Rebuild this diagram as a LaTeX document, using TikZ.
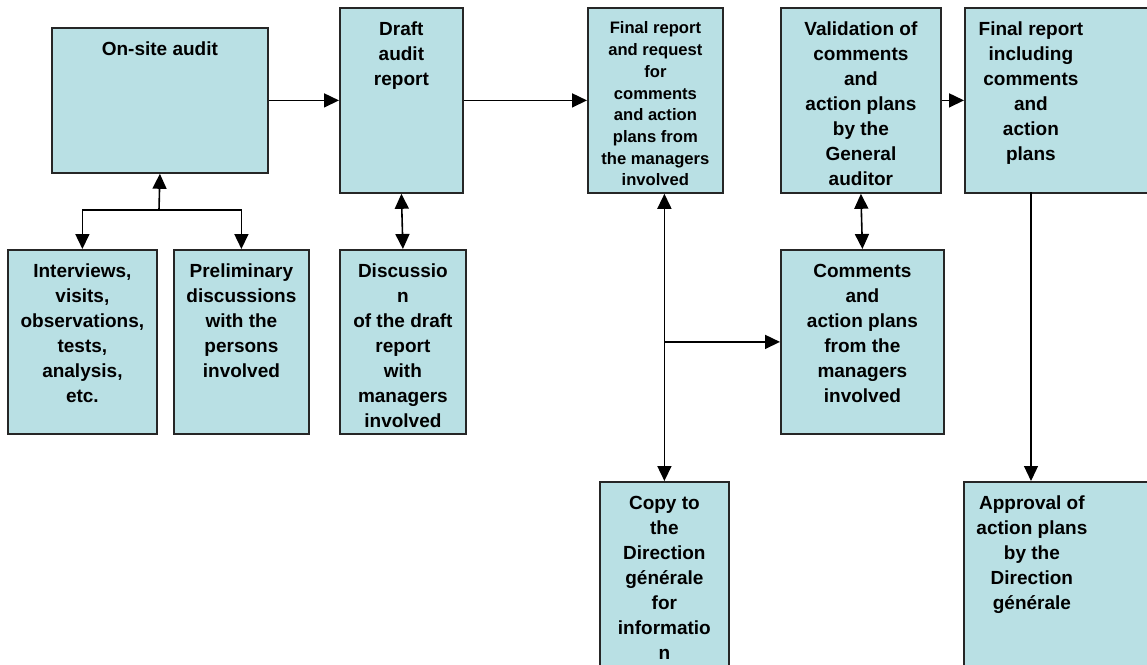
\documentclass[tikz,border=0pt]{standalone}
\usepackage{fontspec}
\setmainfont{Liberation Sans}
\usetikzlibrary{arrows.meta}

\definecolor{boxfill}{RGB}{185,224,228}
\newcommand{\boxtext}[4][28pt]{\parbox[t][#3][t]{#2}{\centering\rule{0pt}{#1}#4}}

\begin{document}
\begin{tikzpicture}[x=1pt,y=-1pt,
  box/.style={draw=black!85,line width=1.8pt,fill=boxfill,inner sep=0pt,anchor=north west,
    font=\fontsize{19pt}{25pt}\selectfont\bfseries},
  arr/.style={line width=1.6pt,-{Triangle[length=15pt,width=14pt]}},
  dbl/.style={line width=1.6pt,{Triangle[length=15pt,width=14pt]}-{Triangle[length=15pt,width=14pt]}}]

\clip (0,0) rectangle (1147,664);

% top row
\node[box] (onsite) at (51,27) {\boxtext{216pt}{145pt}{On-site audit}};
\node[box] (draft) at (339,7) {\boxtext{123pt}{185pt}{Draft\\audit\\report}};
\node[box,font=\fontsize{16.6pt}{21.7pt}\selectfont\bfseries] (final) at (587,7)
  {\boxtext[26pt]{135pt}{185pt}{Final report\\and request\\for\\comments\\and action\\plans from\\the managers\\involved}};
\node[box] (valid) at (780,7) {\boxtext{160pt}{185pt}{Validation of\\comments\\and\\action plans\\by the\\General\\auditor}};
\node[box] (finalinc) at (964,7) {\boxtext{132pt}{185pt}{Final report\\including\\comments\\and\\action\\plans}\hspace*{64pt}};

% second row
\node[box] (interv) at (7,249) {\boxtext{149pt}{184pt}{Interviews,\\visits,\\observations,\\tests,\\analysis,\\etc.}};
\node[box] (prelim) at (173,249) {\boxtext{135pt}{184pt}{Preliminary\\discussions\\with the\\persons\\involved}};
\node[box] (discuss) at (339,249) {\boxtext{126pt}{184pt}{Discussio\\n\\of the draft\\report\\with\\managers\\involved}};
\node[box] (comments) at (780,249) {\boxtext{163pt}{184pt}{Comments\\and\\action plans\\from the\\managers\\involved}};

% bottom row
\node[box] (copy) at (599,481) {\boxtext{129pt}{200pt}{Copy to\\the\\Direction\\générale\\for\\informatio\\n}};
\node[box] (approve) at (963,481) {\boxtext{136pt}{200pt}{Approval of\\action plans\\by the\\Direction\\générale}\hspace*{64pt}};

% connectors
\draw[arr] (onsite.east) -- (draft.west);
\draw[arr] (draft.east) -- (final.west);
\draw[arr] (valid.east) -- (finalinc.west);

\coordinate (split) at (159,210);
\draw[arr] (split) -- (onsite.south);
\draw[arr] (split) -| (interv.north);
\draw[arr] (split) -| (prelim.north);

\draw[dbl] (draft.south) -- (discuss.north);
\draw[dbl] (valid.south) -- (comments.north);

\draw[dbl] (copy.north) -- (copy.north |- final.south);
\coordinate (tap) at (copy.north |- comments.west);
\draw[arr] (tap) -- (comments.west);

\coordinate (drop) at (1031,192);
\draw[arr,line width=1.2pt] (drop) -- (drop |- approve.north);

\end{tikzpicture}
\end{document}
